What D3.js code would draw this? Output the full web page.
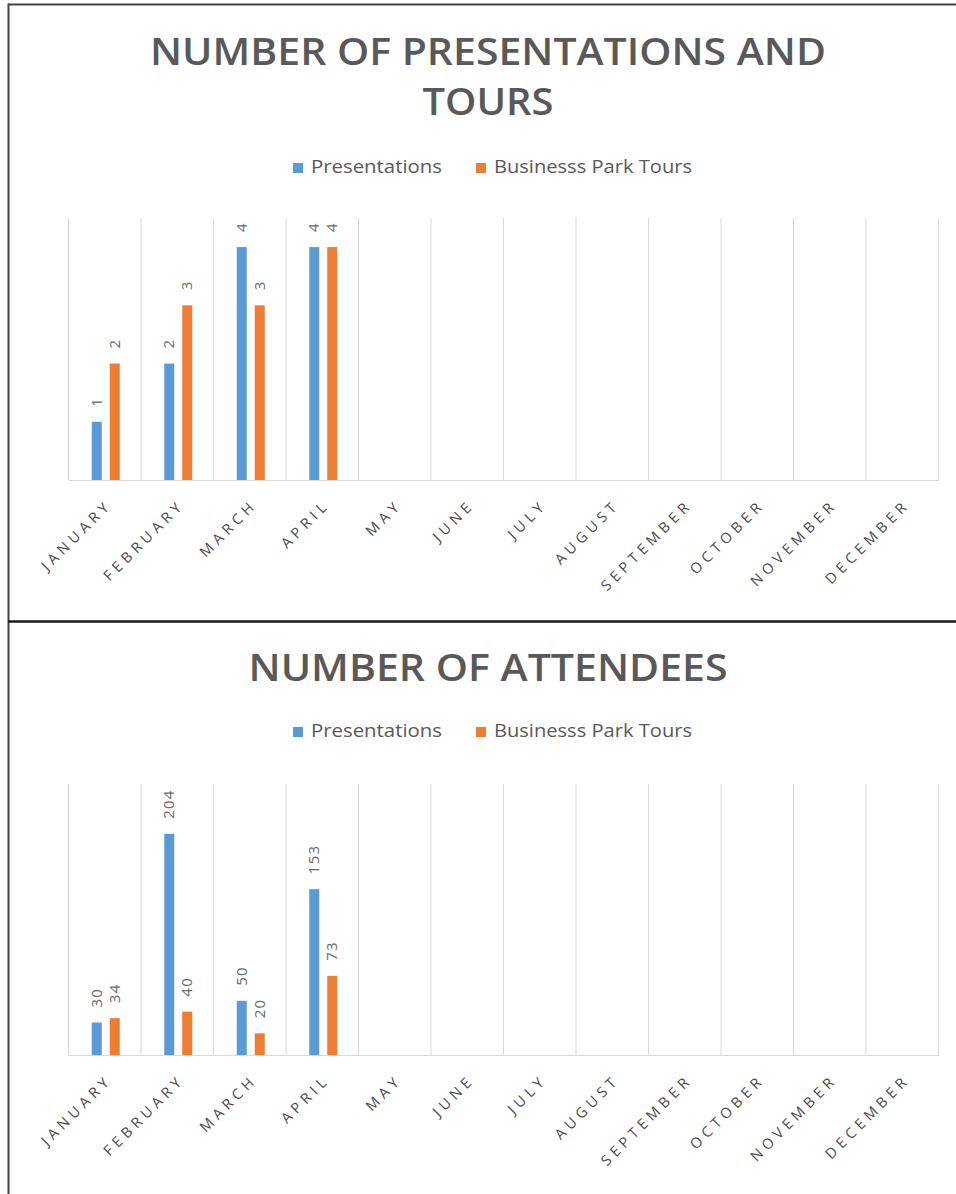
<!DOCTYPE html>
<html>
<head>
<meta charset="utf-8">
<script src="https://cdn.jsdelivr.net/npm/d3@7/dist/d3.min.js"></script>
<style>
  html, body { margin: 0; padding: 0; background: #fff; }
  svg { display: block; }
</style>
</head>
<body>
<svg id="chart" width="956" height="1194"></svg>
<script>
// ---------- DATA ----------
const months = ["JANUARY","FEBRUARY","MARCH","APRIL","MAY","JUNE","JULY","AUGUST","SEPTEMBER","OCTOBER","NOVEMBER","DECEMBER"];
const seriesNames = ["Presentations", "Businesss Park Tours"];
const dataMonths = ["JANUARY","FEBRUARY","MARCH","APRIL"];
const presentationsCount = [1, 2, 4, 4];
const toursCount = [2, 3, 3, 4];
const presentationsAttendees = [30, 204, 50, 153];
const toursAttendees = [34, 40, 20, 73];
const chart1Title = ["NUMBER OF PRESENTATIONS AND", "TOURS"];
const chart2Title = ["NUMBER OF ATTENDEES"];

// ---------- STYLE ----------
const colors = ["#5b9bd5", "#ed7d31"];
const textColor = "#595959";
const gridColor = "#d9d9d9";
const FONT = "'Open Sans', 'Noto Sans', 'DejaVu Sans', sans-serif";

const svg = d3.select("#chart");
svg.append("rect").attr("width", 956).attr("height", 1194).attr("fill", "#fff");

// frame
svg.append("line").attr("x1", 8).attr("x2", 956).attr("y1", 4.5).attr("y2", 4.5)
  .attr("stroke", "#444").attr("stroke-width", 2);
svg.append("line").attr("x1", 8.5).attr("x2", 8.5).attr("y1", 3.5).attr("y2", 1194)
  .attr("stroke", "#444").attr("stroke-width", 2);
svg.append("line").attr("x1", 8).attr("x2", 956).attr("y1", 621.5).attr("y2", 621.5)
  .attr("stroke", "#1a1a1a").attr("stroke-width", 2.5);

function drawChart(cfg) {
  const g = svg.append("g");
  // title
  cfg.title.forEach((t, i) => {
    g.append("text")
      .attr("x", 488).attr("y", cfg.titleY[i])
      .attr("text-anchor", "middle")
      .attr("font-family", FONT).attr("font-weight", 600)
      .attr("font-size", 37)
      .attr("fill", textColor)
      .attr("textLength", cfg.titleLen[i]).attr("lengthAdjust", "spacingAndGlyphs")
      .text(t);
  });
  // legend
  const legX = [293, 476];
  const legTextLen = [131, 198];
  seriesNames.forEach((s, i) => {
    g.append("rect").attr("x", legX[i]).attr("y", cfg.legendY - 10).attr("width", 10).attr("height", 10)
      .attr("fill", colors[i]);
    g.append("text").attr("x", legX[i] + 18).attr("y", cfg.legendY)
      .attr("font-family", FONT).attr("font-size", 19).attr("fill", textColor)
      .attr("textLength", legTextLen[i]).attr("lengthAdjust", "spacingAndGlyphs")
      .text(s);
  });

  const x0 = d3.scaleBand().domain(months).range([68.5, 938.5]).paddingInner(0).paddingOuter(0);
  const x1 = d3.scaleBand().domain(seriesNames).range([-13, 15]).paddingInner(8 / 18).paddingOuter(0);
  const y = d3.scaleLinear().domain([0, cfg.yMax]).range([cfg.base, cfg.top]);

  // gridlines at category boundaries
  const bounds = months.map(m => x0(m)).concat([x0.range()[1]]);
  g.append("g").selectAll("line").data(bounds).join("line")
    .attr("x1", d => d).attr("x2", d => d)
    .attr("y1", cfg.top).attr("y2", cfg.base)
    .attr("stroke", gridColor).attr("stroke-width", 1);

  // x axis
  const axis = d3.axisBottom(x0).tickSize(0).tickPadding(0);
  const ax = g.append("g").attr("transform", `translate(0,${cfg.base})`).call(axis);
  ax.select(".domain").attr("stroke", gridColor).attr("stroke-width", 1.2);
  ax.selectAll(".tick text")
    .attr("font-family", FONT).attr("font-size", 14.5)
    .attr("fill", "#4a4a4a")
    .attr("letter-spacing", "4.6px")
    .attr("text-anchor", "end")
    .attr("dy", 0).attr("y", 0).attr("x", 0)
    .attr("dx", "4.6px")
    .attr("transform", `translate(5, 29) rotate(-45)`);

  // bars
  const rows = dataMonths.map((m, i) => ({ m, vals: [cfg.s1[i], cfg.s2[i]] }));
  const grp = g.append("g").selectAll("g").data(rows).join("g")
    .attr("transform", d => `translate(${x0(d.m) + x0.bandwidth() / 2},0)`);
  grp.selectAll("rect").data(d => d.vals.map((v, j) => ({ v, s: seriesNames[j], j }))).join("rect")
    .attr("x", d => x1(d.s)).attr("width", x1.bandwidth())
    .attr("y", d => y(d.v)).attr("height", d => y(0) - y(d.v))
    .attr("fill", d => colors[d.j]);
  grp.selectAll("text").data(d => d.vals.map((v, j) => ({ v, s: seriesNames[j], j }))).join("text")
    .attr("transform", d => `translate(${x1(d.s) + x1.bandwidth() / 2 + 5},${y(d.v) - 15}) rotate(-90)`)
    .attr("text-anchor", "start")
    .attr("font-family", FONT).attr("font-size", 15)
    .attr("letter-spacing", "1.2px")
    .attr("fill", "#6a6a6a")
    .text(d => d.v);
}

drawChart({
  title: chart1Title, titleY: [65, 115], titleLen: [676, 131],
  legendY: 173,
  top: 218, base: 480, yMax: 4.5,
  s1: presentationsCount, s2: toursCount
});
drawChart({
  title: chart2Title, titleY: [681], titleLen: [479],
  legendY: 737,
  top: 784, base: 1055, yMax: 250,
  s1: presentationsAttendees, s2: toursAttendees
});
</script>
</body>
</html>
